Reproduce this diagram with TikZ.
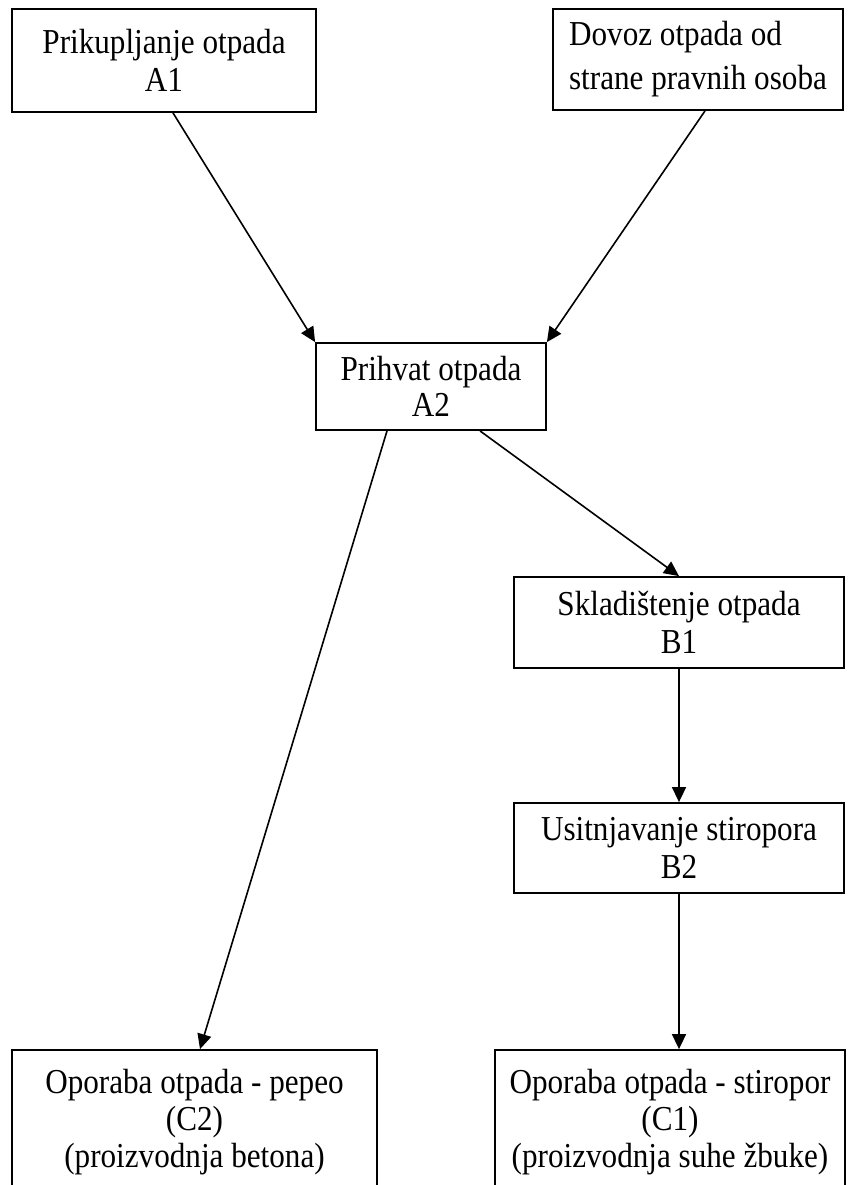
\documentclass[tikz,border=0pt]{standalone}
\usepackage{fontspec}
\setmainfont[FakeStretch=0.89]{Liberation Serif}
\usetikzlibrary{arrows.meta}
\begin{document}
\begin{tikzpicture}[x=1pt,y=-1pt,
  box/.style={draw, line width=1.8pt, inner sep=0pt, align=center, font=\fontsize{35}{38}\selectfont},
  arr/.style={-{Triangle[length=15pt,width=14pt]}, line width=1.6pt}]
\useasboundingbox (0,0) rectangle (850,1185);
\clip (0,0) rectangle (850,1185);
\fill[white] (0,0) rectangle (850,1185);
\node[box, minimum width=304pt, minimum height=103pt] (a1) at (164,60.5) {Prikupljanje otpada\\A1};
\node[box, align=left, minimum width=290pt, minimum height=101pt, font=\fontsize{35}{44}\selectfont] (dv) at (698,59.5) {Dovoz otpada od\\strane pravnih osoba};
\node[box, minimum width=230pt, minimum height=87pt, font=\fontsize{35}{36}\selectfont] (a2) at (431,386.5) {Prihvat otpada\\A2};
\node[box, minimum width=330pt, minimum height=91pt] (b1) at (679,622.5) {Skladištenje otpada\\B1};
\node[box, minimum width=330pt, minimum height=90pt] (b2) at (679,848) {Usitnjavanje stiropora\\B2};
\node[box, minimum width=365pt, minimum height=144pt, font=\fontsize{35}{37}\selectfont] (c2) at (194.5,1122) {Oporaba otpada - pepeo\\(C2)\\(proizvodnja betona)};
\node[box, minimum width=350pt, minimum height=144pt, font=\fontsize{35}{37}\selectfont] (c1) at (670,1122) {Oporaba otpada - stiropor\\(C1)\\(proizvodnja suhe žbuke)};
\draw[arr] ([xshift=9pt]a1.south) -- (a2.north west);
\draw[arr] ([xshift=7pt]dv.south) -- (a2.north east);
\draw[arr] ([xshift=-44pt]a2.south) -- ([xshift=5.5pt]c2.north);
\draw[arr] ([xshift=49pt]a2.south) -- (b1.north);
\draw[arr] (b1.south) -- (b2.north);
\draw[arr] (b2.south) -- ([xshift=9pt]c1.north);
\end{tikzpicture}
\end{document}
